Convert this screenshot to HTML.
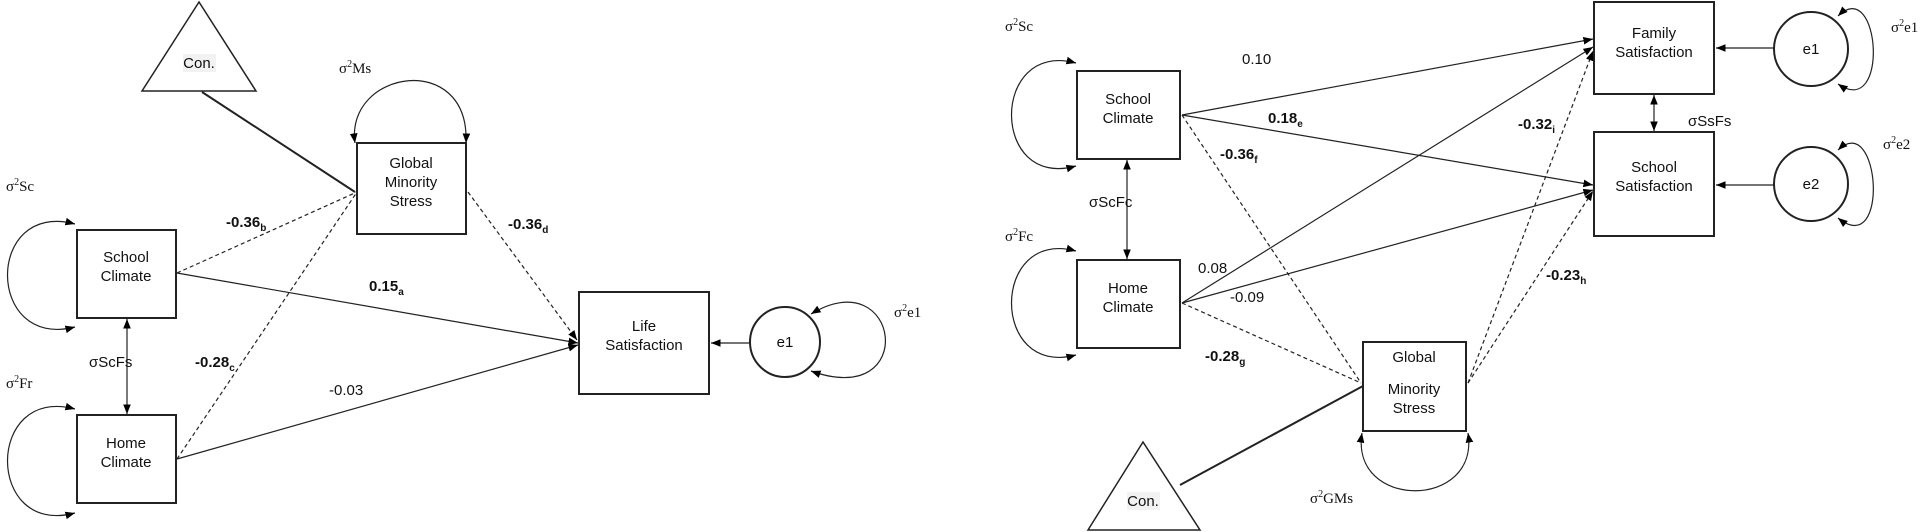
<!DOCTYPE html>
<html><head><meta charset="utf-8"><style>
html,body{margin:0;padding:0;background:#fff;}
svg{display:block;}
text{font-family:"Liberation Sans",Arial,sans-serif;font-size:15px;fill:#111;}
.b{font-weight:bold;}
.s{font-family:"Liberation Serif","DejaVu Serif",serif;}
</style></head><body>
<svg width="1925" height="532" viewBox="0 0 1925 532" xmlns="http://www.w3.org/2000/svg">
<defs>
<marker id="a" viewBox="0 0 10 10" refX="10" refY="5" markerWidth="8" markerHeight="8" orient="auto-start-reverse"><path d="M0,1 L10,5 L0,9 z" fill="#000"/></marker>
</defs>
<g fill="none" stroke="#222" stroke-width="1.2">
<!-- LEFT PANEL -->
<polygon points="199,2 142,91 256,91" stroke-width="1.5" fill="#fff"/>
<line x1="202" y1="92" x2="355" y2="192" stroke-width="2"/>
<rect x="357" y="143" width="109" height="91" stroke-width="2"/>
<path d="M355,143 C345,70 470,50 466,143" marker-start="url(#a)" marker-end="url(#a)"/>
<rect x="77" y="230" width="99" height="88" stroke-width="2"/>
<rect x="77" y="415" width="99" height="88" stroke-width="2"/>
<rect x="579" y="292" width="130" height="102" stroke-width="2"/>
<circle cx="785" cy="342" r="35" stroke-width="2"/>
<path d="M75,224 C-15,200 -15,350 75,327" marker-start="url(#a)" marker-end="url(#a)"/>
<path d="M75,409 C-15,385 -15,537 75,513" marker-start="url(#a)" marker-end="url(#a)"/>
<line x1="127" y1="319" x2="127" y2="414" marker-start="url(#a)" marker-end="url(#a)"/>
<path d="M811,314 C900,260 920,410 811,371" marker-start="url(#a)" marker-end="url(#a)"/>
<line x1="750" y1="343" x2="711" y2="343" marker-end="url(#a)"/>
<line x1="177" y1="273" x2="578" y2="343" marker-end="url(#a)"/>
<line x1="177" y1="459" x2="578" y2="345" marker-end="url(#a)"/>
<line x1="177" y1="273" x2="357" y2="192" stroke-dasharray="4,3"/>
<line x1="177" y1="459" x2="357" y2="192" stroke-dasharray="4,3"/>
<line x1="468" y1="192" x2="577" y2="340" stroke-dasharray="4,3" marker-end="url(#a)"/>
<!-- RIGHT PANEL -->
<rect x="1077" y="71" width="103" height="88" stroke-width="2"/>
<rect x="1077" y="260" width="103" height="88" stroke-width="2"/>
<rect x="1594" y="2" width="120" height="92" stroke-width="2"/>
<rect x="1594" y="132" width="120" height="104" stroke-width="2"/>
<rect x="1363" y="342" width="103" height="89" stroke-width="2"/>
<polygon points="1143,442 1088,530 1200,530" stroke-width="1.5" fill="#fff"/>
<line x1="1180" y1="485" x2="1363" y2="386" stroke-width="2"/>
<circle cx="1811" cy="49" r="37" stroke-width="2"/>
<circle cx="1811" cy="184" r="37" stroke-width="2"/>
<path d="M1838,16 C1880,-25 1890,120 1838,84" marker-start="url(#a)" marker-end="url(#a)"/>
<path d="M1838,150 C1880,110 1890,260 1838,218" marker-start="url(#a)" marker-end="url(#a)"/>
<line x1="1774" y1="48" x2="1716" y2="48" marker-end="url(#a)"/>
<line x1="1774" y1="185" x2="1716" y2="185" marker-end="url(#a)"/>
<line x1="1654" y1="95" x2="1654" y2="131" marker-start="url(#a)" marker-end="url(#a)"/>
<path d="M1076,63 C990,40 990,190 1076,166" marker-start="url(#a)" marker-end="url(#a)"/>
<path d="M1076,251 C990,228 990,378 1076,355" marker-start="url(#a)" marker-end="url(#a)"/>
<line x1="1127" y1="160" x2="1127" y2="259" marker-start="url(#a)" marker-end="url(#a)"/>
<path d="M1362,433 C1350,510 1480,510 1468,433" marker-start="url(#a)" marker-end="url(#a)"/>
<line x1="1182" y1="115" x2="1593" y2="39" marker-end="url(#a)"/>
<line x1="1182" y1="115" x2="1593" y2="185" marker-end="url(#a)"/>
<line x1="1182" y1="115" x2="1361" y2="383" stroke-dasharray="4,3"/>
<line x1="1182" y1="303" x2="1593" y2="47" marker-end="url(#a)"/>
<line x1="1182" y1="303" x2="1593" y2="190" marker-end="url(#a)"/>
<line x1="1182" y1="303" x2="1361" y2="383" stroke-dasharray="4,3"/>
<line x1="1468" y1="383" x2="1593" y2="51" stroke-dasharray="4,3" marker-end="url(#a)"/>
<line x1="1468" y1="383" x2="1593" y2="191" stroke-dasharray="4,3" marker-end="url(#a)"/>
</g>
<g text-anchor="middle">
<rect x="183" y="54" width="33" height="18" fill="#f2f2f2"/>
<text x="199" y="68" font-size="14">Con.</text>
<text x="411" y="168">Global</text><text x="411" y="187">Minority</text><text x="411" y="206">Stress</text>
<text x="126" y="262">School</text><text x="126" y="281">Climate</text>
<text x="126" y="448">Home</text><text x="126" y="467">Climate</text>
<text x="644" y="331">Life</text><text x="644" y="350">Satisfaction</text>
<text x="785" y="347">e1</text>
<text x="1128" y="104">School</text><text x="1128" y="123">Climate</text>
<text x="1128" y="293">Home</text><text x="1128" y="312">Climate</text>
<text x="1654" y="38">Family</text><text x="1654" y="57">Satisfaction</text>
<text x="1654" y="172">School</text><text x="1654" y="191">Satisfaction</text>
<text x="1414" y="362">Global</text><text x="1414" y="394">Minority</text><text x="1414" y="413">Stress</text>
<rect x="1127" y="492" width="33" height="18" fill="#f2f2f2"/>
<text x="1143" y="506" font-size="14">Con.</text>
<text x="1811" y="54">e1</text>
<text x="1811" y="189">e2</text>
</g>
<g>
<text x="339" y="73" class="s" font-size="14">σ<tspan dy="-6" font-size="10">2</tspan><tspan dy="6">Ms</tspan></text>
<text x="6" y="191" class="s" font-size="14">σ<tspan dy="-6" font-size="10">2</tspan><tspan dy="6">Sc</tspan></text>
<text x="6" y="388" class="s" font-size="14">σ<tspan dy="-6" font-size="10">2</tspan><tspan dy="6">Fr</tspan></text>
<text x="89" y="367">σScFs</text>
<text x="894" y="317" class="s" font-size="14">σ<tspan dy="-6" font-size="10">2</tspan><tspan dy="6">e1</tspan></text>
<text x="226" y="227" class="b">-0.36<tspan dy="4" font-size="10">b</tspan></text>
<text x="195" y="367" class="b">-0.28<tspan dy="4" font-size="10">c</tspan></text>
<text x="508" y="229" class="b">-0.36<tspan dy="4" font-size="10">d</tspan></text>
<text x="369" y="291" class="b">0.15<tspan dy="4" font-size="10">a</tspan></text>
<text x="329" y="395">-0.03</text>
<text x="1005" y="31" class="s" font-size="14">σ<tspan dy="-6" font-size="10">2</tspan><tspan dy="6">Sc</tspan></text>
<text x="1005" y="241" class="s" font-size="14">σ<tspan dy="-6" font-size="10">2</tspan><tspan dy="6">Fc</tspan></text>
<text x="1089" y="207">σScFc</text>
<text x="1688" y="126">σSsFs</text>
<text x="1891" y="32" class="s" font-size="14">σ<tspan dy="-6" font-size="10">2</tspan><tspan dy="6">e1</tspan></text>
<text x="1883" y="149" class="s" font-size="14">σ<tspan dy="-6" font-size="10">2</tspan><tspan dy="6">e2</tspan></text>
<text x="1310" y="503" class="s" font-size="14">σ<tspan dy="-6" font-size="10">2</tspan><tspan dy="6">GMs</tspan></text>
<text x="1242" y="64">0.10</text>
<text x="1268" y="123" class="b">0.18<tspan dy="4" font-size="10">e</tspan></text>
<text x="1220" y="159" class="b">-0.36<tspan dy="4" font-size="10">f</tspan></text>
<text x="1198" y="273">0.08</text>
<text x="1230" y="302">-0.09</text>
<text x="1205" y="361" class="b">-0.28<tspan dy="4" font-size="10">g</tspan></text>
<text x="1518" y="129" class="b">-0.32<tspan dy="4" font-size="10">i</tspan></text>
<text x="1546" y="280" class="b">-0.23<tspan dy="4" font-size="10">h</tspan></text>
</g>
</svg>
</body></html>
